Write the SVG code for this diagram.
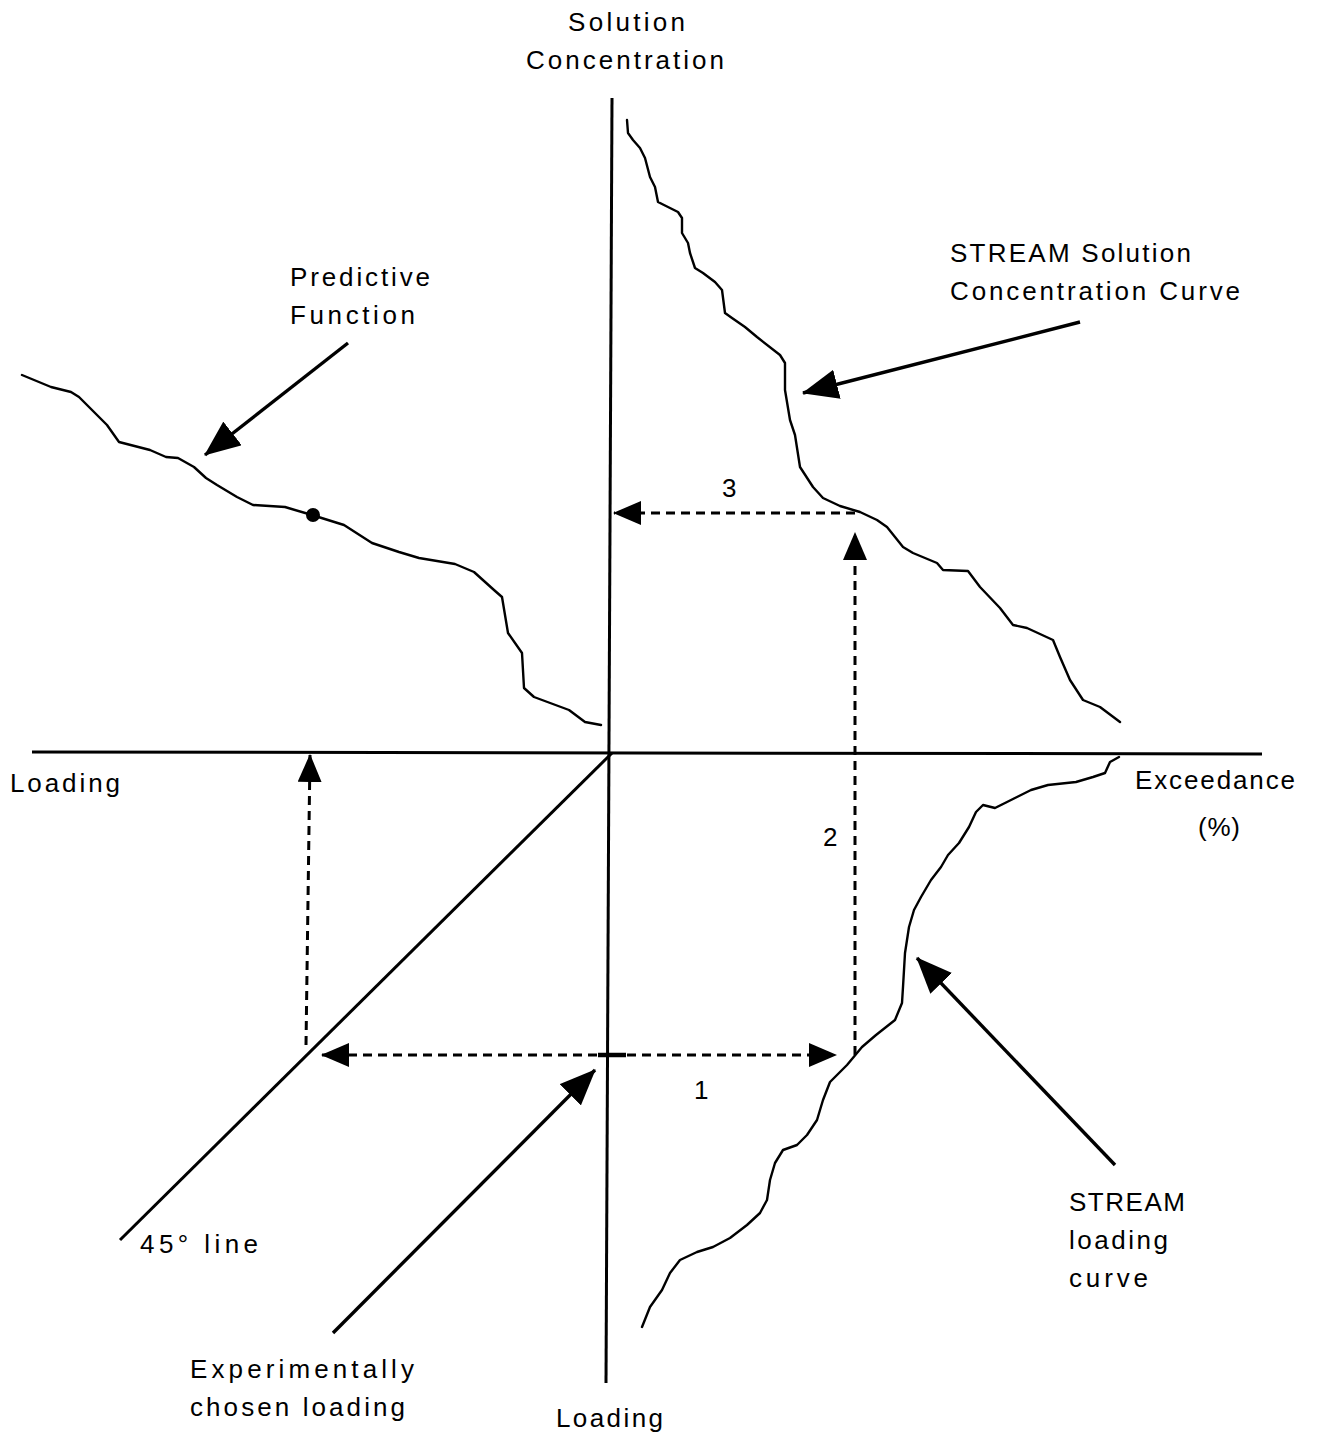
<svg xmlns="http://www.w3.org/2000/svg" width="1317" height="1440" viewBox="0 0 1317 1440">
<style>
  text { font-family: "Liberation Sans", Arial, sans-serif; font-size: 26px; fill: #000; }
  .axis { stroke: #000; stroke-width: 3; fill: none; }
  .curve { stroke: #000; stroke-width: 2.4; fill: none; stroke-linejoin: round; stroke-linecap: round; }
  .dash { stroke: #000; stroke-width: 3; fill: none; stroke-dasharray: 9 6; }
  .solid { stroke: #000; stroke-width: 3.4; fill: none; }
</style>
<defs>
  <marker id="dhead" markerUnits="userSpaceOnUse" markerWidth="28" markerHeight="24" refX="27" refY="12" orient="auto-start-reverse">
    <path d="M0,0 L28,12 L0,24 z" fill="#000"/>
  </marker>
  <marker id="shead" markerUnits="userSpaceOnUse" markerWidth="36" markerHeight="30" refX="35" refY="15" orient="auto">
    <path d="M0,0 L36,15 L0,30 z" fill="#000"/>
  </marker>
</defs>

<g id="axes">
  <line class="axis" x1="612" y1="98" x2="606" y2="1383"/>
  <line class="axis" x1="32" y1="752" x2="1262" y2="754"/>
</g>

<g id="line45">
  <line class="axis" x1="612" y1="753" x2="120" y2="1240"/>
</g>

<g id="stream-solution-curve">
  <polyline class="curve" points="627,120 628,133 633,140 640,148 645,158 650,177 655,187 658,202 670,208 678,212 682,218 682,233 688,243 690,253 695,268 703,273 715,282 722,290 725,313 732,318 745,327 757,337 780,355 785,363 785,390 790,420 795,435 800,467 813,487 823,498 840,506 860,512 877,520 887,527 903,547 913,553 937,563 943,570 968,571 980,587 1000,608 1013,625 1027,628 1053,640 1060,657 1070,680 1083,700 1100,707 1120,722"/>
</g>

<g id="predictive-function-curve">
  <polyline class="curve" points="22,375 51,387 71,392 79,397 107,425 119,442 150,450 166,457 178,458 194,467 206,478 217,485 237,497 253,505 285,507 312,515 344,525 372,543 399,552 419,558 455,564 474,572 494,590 502,597 508,633 522,653 524,688 534,697 569,710 585,722 601,725"/>
  <circle cx="313" cy="515" r="7" fill="#000"/>
</g>

<g id="stream-loading-curve">
  <polyline class="curve" points="1119,757 1110,762 1105,773 1093,777 1076,782 1048,785 1031,790 1017,797 1007,802 995,808 983,805 976,812 969,827 959,843 948,855 941,867 931,880 921,897 914,910 909,927 905,953 903,987 902,1003 895,1020 876,1035 862,1047 847,1065 830,1082 823,1100 817,1120 807,1135 797,1145 783,1150 775,1163 770,1180 767,1200 760,1213 747,1225 730,1238 713,1247 697,1252 680,1260 670,1273 662,1290 650,1307 642,1327"/>
</g>

<g id="connectors">
  <line class="dash" x1="612" y1="1055" x2="836" y2="1055" marker-end="url(#dhead)"/>
  <line class="dash" x1="612" y1="1055" x2="322" y2="1055" marker-end="url(#dhead)"/>
  <line x1="598" y1="1055" x2="626" y2="1055" stroke="#000" stroke-width="4.5"/>
  <line class="dash" x1="855" y1="1055" x2="855" y2="533" marker-end="url(#dhead)"/>
  <line class="dash" x1="855" y1="513" x2="614" y2="513" marker-end="url(#dhead)"/>
  <line class="dash" x1="306" y1="1045" x2="310" y2="755" marker-end="url(#dhead)"/>
  <line class="solid" x1="348" y1="343" x2="205" y2="455" marker-end="url(#shead)"/>
  <line class="solid" x1="1080" y1="322" x2="803" y2="393" marker-end="url(#shead)"/>
  <line class="solid" x1="1115" y1="1165" x2="917" y2="958" marker-end="url(#shead)"/>
  <line class="solid" x1="333" y1="1333" x2="595" y2="1070" marker-end="url(#shead)"/>
</g>

<g id="labels" xml:space="preserve">
  <text x="568" y="31" textLength="117" lengthAdjust="spacing">Solution</text>
  <text x="526" y="69" textLength="198" lengthAdjust="spacing">Concentration</text>
  <text x="290" y="286" textLength="140" lengthAdjust="spacing">Predictive</text>
  <text x="290" y="324" textLength="125" lengthAdjust="spacing">Function</text>
  <text x="950" y="262" textLength="241" lengthAdjust="spacing">STREAM Solution</text>
  <text x="950" y="300" textLength="290" lengthAdjust="spacing">Concentration  Curve</text>
  <text x="10" y="792" textLength="110" lengthAdjust="spacing">Loading</text>
  <text x="1135" y="789" textLength="160" lengthAdjust="spacing">Exceedance</text>
  <text x="1198" y="836" textLength="42" lengthAdjust="spacing">(%)</text>
  <text x="722" y="497">3</text>
  <text x="823" y="846">2</text>
  <text x="694" y="1099">1</text>
  <text x="140" y="1253" textLength="118" lengthAdjust="spacing">45°  line</text>
  <text x="1069" y="1211" textLength="116" lengthAdjust="spacing">STREAM</text>
  <text x="1069" y="1249" textLength="99" lengthAdjust="spacing">loading</text>
  <text x="1069" y="1287" textLength="79" lengthAdjust="spacing">curve</text>
  <text x="190" y="1378" textLength="224" lengthAdjust="spacing">Experimentally</text>
  <text x="190" y="1416" textLength="215" lengthAdjust="spacing">chosen  loading</text>
  <text x="556" y="1427" textLength="107" lengthAdjust="spacing">Loading</text>
</g>
</svg>
